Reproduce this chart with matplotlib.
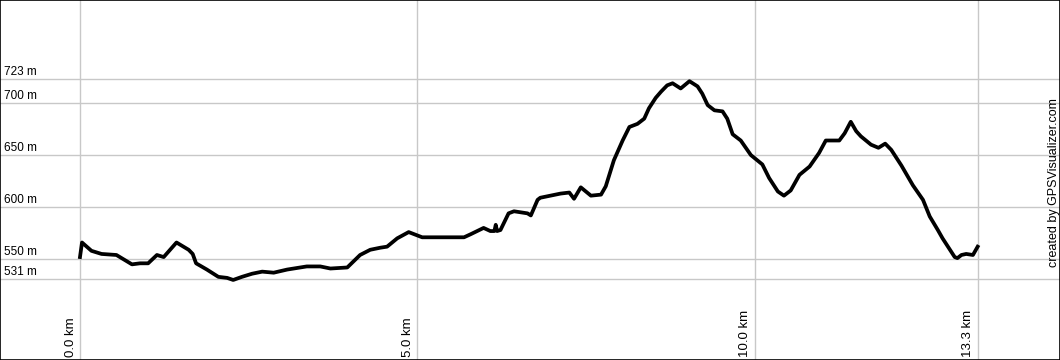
import matplotlib
matplotlib.use("Agg")
import matplotlib.pyplot as plt
from matplotlib.transforms import offset_copy

# track profile: distance (km) / elevation (m)
dist_km = [0.00, 0.03, 0.17, 0.32, 0.54, 0.77, 0.89, 1.01, 1.14, 1.24,
           1.43, 1.61, 1.67, 1.72, 1.88, 2.05, 2.18, 2.27, 2.40, 2.55,
           2.70, 2.87, 3.07, 3.36, 3.56, 3.71, 3.96, 4.15, 4.30, 4.45,
           4.55, 4.70, 4.87, 5.07, 5.19, 5.69, 5.79, 5.98, 6.08, 6.14,
           6.16, 6.18, 6.23, 6.35, 6.43, 6.63, 6.68, 6.78, 6.82, 7.12,
           7.25, 7.32, 7.42, 7.57, 7.72, 7.79, 7.91, 8.04, 8.14, 8.26,
           8.36, 8.43, 8.53, 8.61, 8.70, 8.78, 8.90, 9.03, 9.15, 9.22,
           9.30, 9.40, 9.52, 9.59, 9.67, 9.79, 9.94, 10.11, 10.21, 10.34,
           10.43, 10.53, 10.66, 10.81, 10.95, 11.05, 11.25, 11.33, 11.42, 11.50,
           11.57, 11.72, 11.83, 11.93, 12.02, 12.17, 12.34, 12.49, 12.59, 12.71,
           12.78, 12.88, 12.96, 13.00, 13.06, 13.13, 13.23, 13.30]
elev_m = [552, 566, 558, 555, 554, 545, 546, 546, 554, 552,
          566, 559, 555, 546, 540, 533, 532, 530, 533, 536,
          538, 537, 540, 543, 543, 541, 542, 554, 559, 561,
          562, 570, 576, 571, 571, 571, 574, 580, 577, 577,
          583, 577, 578, 594, 596, 594, 592, 607, 609, 613,
          614, 608, 619, 611, 612, 620, 645, 664, 677, 680,
          685, 695, 705, 711, 717, 719, 714, 721, 716, 709,
          698, 693, 692, 685, 670, 664, 650, 641, 628, 615,
          611, 616, 631, 639, 652, 664, 664, 671, 682, 673,
          668, 660, 657, 661, 655, 640, 621, 607, 591, 578,
          570, 560, 552, 551, 554, 555, 554, 562]

y_ticks = [531, 550, 600, 650, 700, 723]
x_ticks = [0.0, 5.0, 10.0, 13.3]

plt.rcParams['font.family'] = ['Liberation Sans', 'DejaVu Sans']

fig = plt.figure(figsize=(10.6, 3.6), dpi=100)
ax = fig.add_axes([0, 0, 1, 1])
ax.set_xlim(-1.185, 14.52)
ax.set_ylim(453.1, 799)

grid = '#c8c8c8'
for y in y_ticks:
    ax.axhline(y, color=grid, lw=1, zorder=1)
    t = offset_copy(ax.get_yaxis_transform(), fig=fig, x=3, y=1, units='points')
    ax.text(0, y, f"{y} m", transform=t, fontsize=8.5, ha='left', va='bottom')
for x in x_ticks:
    ax.axvline(x, color=grid, lw=1, zorder=1)
    t = offset_copy(ax.get_xaxis_transform(), fig=fig, x=-2.5, y=2.5, units='points')
    ax.text(x, 0, f"{x:.1f} km", transform=t, fontsize=9.5, rotation=90,
            ha='right', va='bottom')

ax.plot(dist_km, elev_m, color='black', lw=2.7, solid_joinstyle='round', zorder=3)

ax.text(0.9943, 0.493, "created by GPSVisualizer.com", transform=ax.transAxes,
        fontsize=9, rotation=90, ha='center', va='center')

ax.set_xticks([])
ax.set_yticks([])
for s in ax.spines.values():
    s.set_color('black')
    s.set_linewidth(1.2)

fig.savefig("out.png", dpi=100)
